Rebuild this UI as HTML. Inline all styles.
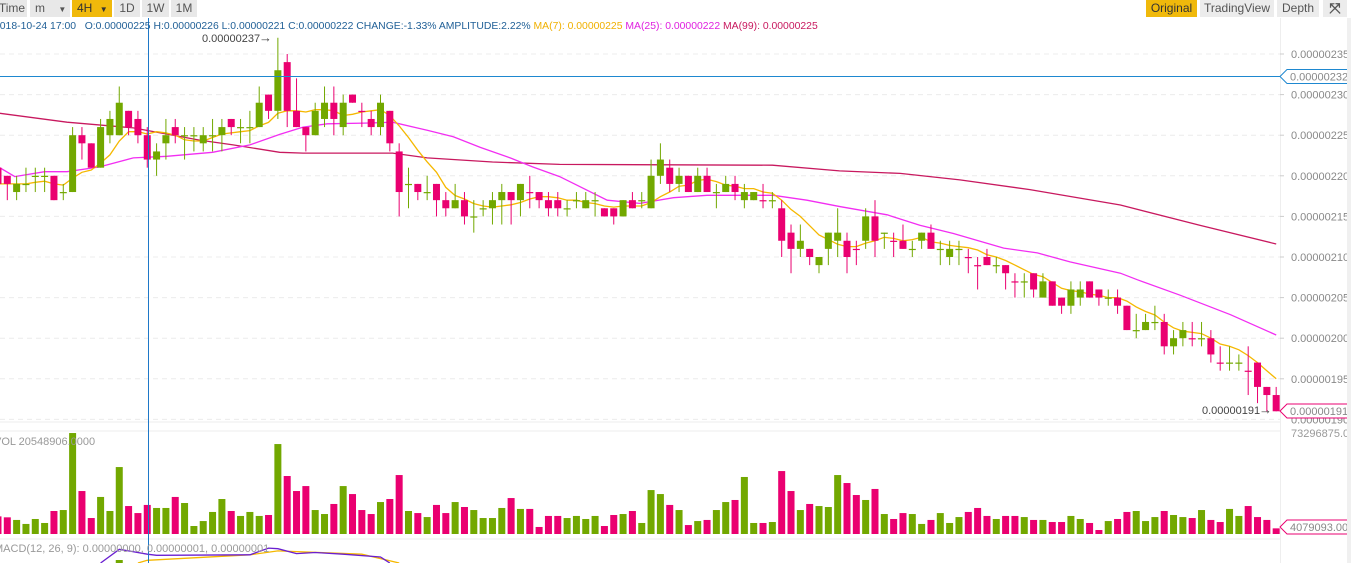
<!DOCTYPE html>
<html><head><meta charset="utf-8">
<style>
body{margin:0;width:1351px;height:563px;overflow:hidden;background:#fff;font-family:"Liberation Sans",sans-serif;}
#bar{position:absolute;left:0;top:0;height:18px;width:1351px;}
.btn{position:absolute;top:0;height:17px;line-height:17px;font-size:12px;color:#555;background:#e8e8e8;text-align:center;}
.on{background:#f0b90b;color:#333;}
svg{position:absolute;left:0;top:0;}
</style></head><body>
<div id="bar">
<div class="btn" style="left:-3px;width:30px">Time</div>
<div class="btn" style="left:30px;width:40px;text-align:left;padding-left:5px;box-sizing:border-box">m <span style="font-size:8px;margin-left:10px">▼</span></div>
<div class="btn on" style="left:72px;width:40px;text-align:left;padding-left:5px;box-sizing:border-box">4H <span style="font-size:8px;margin-left:4px">▼</span></div>
<div class="btn" style="left:114px;width:26px">1D</div>
<div class="btn" style="left:142px;width:27px">1W</div>
<div class="btn" style="left:171px;width:26px">1M</div>
<div class="btn on" style="left:1146px;width:51px">Original</div>
<div class="btn" style="left:1200px;width:74px;background:#ececec">TradingView</div>
<div class="btn" style="left:1277px;width:42px;background:#ececec">Depth</div>
<div class="btn" style="left:1323px;width:24px;background:#ececec;font-size:14px;font-weight:bold">⤧</div>
</div>
<svg id="chart" width="1351" height="563"></svg>
<script>
const candles=[[221,221,219,219,0],[220,220,217,219,0],[218,220,217,219,1],[219,221,218,219,1],[220,221,218,220,1],[220,221,218,220,1],[220,220,217,217,0],[218,219,217,218,1],[218,226,218,225,1],[225,226,222,224,0],[224,224,221,221,0],[221,227,221,226,1],[225,228,224,227,1],[225,231,225,229,1],[228,228,225,226,0],[227,228,224,225,0],[225,226,221,222,0],[222,224,220,223,1],[224,227,222,225,1],[226,227,224,225,0],[225,226,222,225,1],[225,226,223,225,1],[224,226,223,225,1],[225,227,223,225,1],[225,227,223,226,1],[227,227,225,226,0],[226,227,224,226,1],[226,228,224,226,1],[226,231,226,229,1],[230,230,227,228,0],[228,237,227,233,1],[234,235,226,228,0],[228,232,226,226,0],[226,226,223,225,0],[225,229,225,228,1],[227,231,226,229,1],[229,231,225,227,0],[226,230,225,229,1],[230,230,229,229,0],[228,229,226,228,0],[227,228,225,226,0],[226,230,225,229,1],[228,228,223,224,0],[223,224,215,218,0],[219,221,216,219,1],[219,219,217,218,0],[218,220,217,218,1],[219,219,215,217,0],[217,218,215,216,0],[216,219,216,217,1],[217,218,214,215,0],[215,217,213,215,1],[216,217,215,216,1],[216,218,214,217,1],[217,219,214,218,1],[218,218,214,217,0],[217,219,215,219,1],[218,220,216,218,0],[218,218,216,217,0],[217,218,215,216,0],[217,218,215,216,0],[216,217,215,216,1],[217,218,216,217,1],[216,218,216,217,1],[217,218,215,217,1],[216,216,215,215,0],[216,216,214,215,0],[215,217,215,217,1],[217,218,216,216,0],[217,218,216,217,1],[216,222,216,220,1],[220,224,219,222,1],[221,222,218,219,0],[219,221,218,220,1],[220,220,218,218,0],[218,221,218,220,1],[220,221,218,218,0],[218,219,216,218,1],[218,220,218,219,1],[219,220,217,218,0],[217,219,216,218,1],[217,218,217,218,1],[217,219,216,217,0],[217,218,216,217,1],[216,217,210,212,0],[213,214,208,211,0],[211,214,210,212,1],[211,211,209,210,0],[209,210,208,210,1],[211,213,209,213,1],[212,216,210,213,1],[212,213,208,210,0],[211,212,209,211,0],[212,216,211,215,1],[215,217,210,212,0],[213,213,211,213,1],[212,213,210,212,0],[212,214,211,211,0],[211,212,210,211,1],[212,213,211,213,1],[213,214,211,211,0],[211,212,209,211,1],[210,212,209,211,1],[211,212,209,211,1],[210,211,208,210,0],[209,210,206,209,0],[210,211,209,209,0],[209,210,208,209,1],[209,209,206,208,0],[207,208,205,207,0],[207,208,205,207,1],[208,208,205,206,0],[205,208,205,207,1],[207,207,204,204,0],[205,205,203,204,0],[204,207,203,206,1],[205,207,204,206,1],[207,207,205,205,0],[206,206,204,205,0],[205,206,204,205,1],[205,206,203,204,0],[204,204,201,201,0],[201,203,200,201,1],[201,203,201,202,1],[202,204,201,202,1],[202,203,198,199,0],[199,201,198,200,1],[200,202,199,201,1],[200,202,199,200,0],[200,202,199,200,1],[200,201,197,198,0],[197,199,196,197,0],[197,199,196,197,1],[197,198,196,197,1],[196,199,193,196,0],[197,197,192,194,0],[194,194,191,193,0],[193,194,191,191,0]];
const volumes=[12.8,12.1,10.2,7.3,10.9,8.0,16.7,17.4,73.3,31.2,11.6,26.9,16.7,48.6,20.3,15.2,21.1,18.9,18.9,26.9,22.5,5.8,9.4,16.0,25.4,16.7,13.1,16.0,13.1,13.8,65.3,42.1,31.2,34.8,17.4,14.5,21.8,34.8,29.0,17.4,14.5,23.2,25.4,42.8,16.7,15.2,12.3,21.1,15.2,23.2,19.6,17.4,11.6,11.6,18.9,26.1,18.2,18.2,5.1,13.1,13.1,11.6,13.1,10.9,13.1,5.8,13.8,14.5,16.7,8.0,31.9,29.0,21.1,17.4,6.5,9.4,10.2,17.4,23.2,24.7,41.4,8.0,8.0,8.7,45.7,31.2,17.4,21.8,20.3,19.6,42.8,37.0,28.3,24.7,32.7,14.5,10.9,15.2,14.5,7.3,10.2,15.2,8.0,12.3,16.0,18.9,13.1,10.9,13.1,13.1,12.3,10.2,10.2,8.7,8.7,13.1,10.9,8.0,2.9,9.4,10.9,16.0,16.7,9.4,12.3,16.7,13.8,12.3,11.6,17.4,10.2,8.7,18.2,13.1,20.3,12.3,10.2,4.1];
const ma25Idx=[-0.8,0.8,4,6.4,9.9,13.5,17.1,22,26,29.2,31.7,34.3,38.9,41.3,45,47.8,50.7,53.9,56.3,59.2,60.6,64.3,67.8,71.4,75,82.1,85.7,89.3,94.3,97.8,101.4,106.8,110.4,113.9,119.3,121.1,125.7,131.1,136];
const ma25Val=[221.0,219.9,220.5,220.5,221.1,222.2,222.4,222.9,223.8,225.1,226.0,226.4,226.5,226.6,225.6,224.8,223.5,222.2,221.1,219.9,219.1,217.0,216.6,217.3,217.6,217.6,217.0,216.2,215.2,213.9,212.9,211.1,210.5,209.4,208.0,207.2,205.3,202.9,200.4];
const ma99Idx=[-0.8,6.4,13.5,20.6,24.2,29.2,31.7,41.3,45,52,59.2,82,89.2,95.7,102.1,109.6,119.3,127.8,136];
const ma99Val=[227.7,226.6,225.9,224.4,223.8,222.9,222.8,222.8,222.2,221.7,221.4,221.3,220.6,220.3,219.5,218.3,216.4,213.9,211.6];
const priceTicks=[235,230,225,220,215,210,205,200,195];
const macdIdx=[10,12,15,16,26,28,29,31,33,36,40,41];
const macdVal=[0,2.5,1.6,1.4,1.5,2.7,2.6,1.7,1.9,1.6,1.1,0];
const sigIdx=[14,15,26,29,38,42];
const sigVal=[0,0.5,1.5,2.2,1.6,0];

const svg=document.getElementById('chart');const NS='http://www.w3.org/2000/svg';
const XI=j=>7.3+9.33*j;            // by candle index (first visible full candle = 0)
const X=k=>XI(k-1);                // by array position
const Y=p=>54+(235-p)*8.12;
const VY=v=>534-v/0.726;
const MY=m=>563-m*5.5;
const GREEN='#72a800',PINK='#ea0070';
function el(t,a,parent){const e=document.createElementNS(NS,t);for(const k in a)e.setAttribute(k,a[k]);(parent||svg).appendChild(e);return e;}
function txt(x,y,s,a){const e=el('text',Object.assign({x:x,y:y,'font-size':11,'font-family':'Liberation Sans, sans-serif'},a));e.textContent=s;return e;}
priceTicks.concat([190]).forEach(p=>{const g=el('line',{x1:0,x2:1280,y1:Y(p),y2:Y(p),stroke:'#ececec','stroke-dasharray':'5,4'});

});
[[0,1280,422],[0,1280,431],[0,1280,539]].forEach(l=>{const g=el('line',{x1:l[0],x2:l[1],y1:l[2],y2:l[2],stroke:'#eeeeee'});

});
const ax=el('line',{x1:1280.5,x2:1280.5,y1:18,y2:563,stroke:'#eeeeee'});


priceTicks.forEach(p=>{const t=txt(1291,Y(p)+4,'0.00000'+p,{fill:'#888'});


const tk=el('line',{x1:1280,x2:1284,y1:Y(p),y2:Y(p),stroke:'#ccc'});

});
const t190=txt(1291,Y(190)+4,'0.00000190',{fill:'#888'});


function line(pts,color,name){const p=el('polyline',{points:pts.map(q=>q[0].toFixed(1)+','+q[1].toFixed(1)).join(' '),fill:'none',stroke:color,'stroke-width':1.3});

return p;}
line(ma99Idx.map((i,k)=>[XI(i),Y(ma99Val[k])]),'#c8195f','ma99-line');
line(ma25Idx.map((i,k)=>[XI(i),Y(ma25Val[k])]),'#f22ef2','ma25-line');
const ma7=candles.map((c,i)=>{const s=candles.slice(Math.max(0,i-6),i+1);return [X(i),Y(s.reduce((a,b)=>a+b[3],0)/s.length)];});
line(ma7,'#f5b800','ma7-line');
candles.forEach((c,i)=>{const [o,h,l,cl,up]=c;const col=up?GREEN:PINK;const x=X(i);
const g=el('g',{});


el('line',{x1:x,x2:x,y1:Y(h),y2:Y(l),stroke:col,'stroke-width':1},g);
const top=Y(Math.max(o,cl)),bot=Y(Math.min(o,cl));
el('rect',{x:x-3.5,y:top,width:7,height:Math.max(1.2,bot-top),fill:col},g);
const vb=el('rect',{x:x-3.5,y:VY(volumes[i]),width:7,height:534-VY(volumes[i]),fill:col});


});
const mg=el('rect',{x:XI(12)-3.5,y:560,width:7,height:3,fill:GREEN});


line(sigIdx.map((i,k)=>[XI(i),MY(sigVal[k])]),'#f5b800','macd-signal-line');
line(macdIdx.map((i,k)=>[XI(i),MY(macdVal[k])]),'#6a1fd0','macd-line');
const hl=el('line',{x1:0,x2:1280,y1:76.5,y2:76.5,stroke:'#1e88d0','stroke-width':1});


function tag(y,s,col,name){const g=el('g',{});


el('path',{d:`M1280,${y} L1287,${y-7} L1351,${y-7} L1351,${y+7} L1287,${y+7} Z`,fill:'#fff',stroke:col,'stroke-width':1},g);
const t=txt(1290,y+4,s,{fill:'#888'});g.appendChild(t);}
tag(76.5,'0.00000232','#1e88d0','current-price-tag');
tag(411,'0.00000191',PINK,'last-price-tag');
tag(527,'4079093.000',PINK,'last-volume-tag');
const vt=txt(1291,437,'73296875.00',{fill:'#999'});


const cv=el('line',{x1:148.5,x2:148.5,y1:18,y2:563,stroke:'#1e78c8','stroke-width':1});


const a1=txt(202,42,'0.00000237',{fill:'#444'});


const a1a=txt(259,42,'→',{fill:'#444','font-size':13});


const a2=txt(1202,414,'0.00000191',{fill:'#444'});


const a2a=txt(1259,414,'→',{fill:'#444','font-size':13});


const info=el('text',{x:-6,y:29,'font-size':10.4,'font-family':'Liberation Sans, sans-serif',fill:'#1f5f96'});


[['2018-10-24 17:00   O:0.00000225 H:0.00000226 L:0.00000221 C:0.00000222 CHANGE:-1.33% AMPLITUDE:2.22% ','#1f5f96'],['MA(7): 0.00000225 ','#f0b000'],['MA(25): 0.00000222 ','#e020e0'],['MA(99): 0.00000225','#c8195f']].forEach(s=>{const ts=el('tspan',{fill:s[1]},info);ts.textContent=s[0];});
info.setAttribute('style','white-space:pre');
const vl=txt(-6,445,'VOL 20548906.0000',{fill:'#999'});


const ml=txt(-6,552,'MACD(12, 26, 9): 0.00000000, 0.00000001, 0.00000001',{fill:'#999'});


const sb=el('rect',{x:1347,y:18,width:4,height:545,fill:'#f0f0f0'});


</script>
</body></html>
